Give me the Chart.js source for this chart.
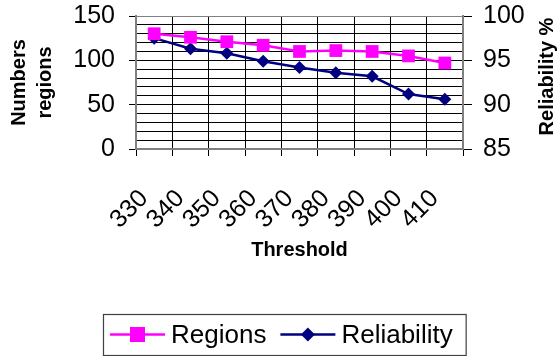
<!DOCTYPE html>
<html>
<head>
<meta charset="utf-8">
<script src="https://cdn.jsdelivr.net/npm/chart.js@4.4.1/dist/chart.umd.min.js"></script>
<style>
  html, body { margin: 0; padding: 0; background: #ffffff; }
  #wrap { width: 558px; height: 356px; }
</style>
</head>
<body>
<div id="wrap"><canvas id="c" width="558" height="356"></canvas></div>
<script>
// ---- data ----
const thresholds = ['330', '340', '350', '360', '370', '380', '390', '400', '410'];
const regions = [130, 126, 121, 117, 110, 111, 110, 105, 97];
const reliability = [97.5, 96.3, 95.8, 94.9, 94.2, 93.6, 93.2, 91.2, 90.6];
const leftTickLabels = [0, 50, 100, 150];
const rightTickLabels = [85, 90, 95, 100];

const FONT = '"Liberation Sans", Arial, Helvetica, sans-serif';
const MAGENTA = '#FF00FF';
const NAVY = '#000080';
const FRAME = '#808080';

function drawMarker(ctx, style, x, y, color) {
  ctx.fillStyle = color;
  ctx.beginPath();
  if (style === 'rect') {
    const s = 7.5;
    ctx.rect(x - s, y - s, 2 * s, 2 * s);
  } else {
    const r = 7;
    ctx.moveTo(x - r, y); ctx.lineTo(x, y - r); ctx.lineTo(x + r, y); ctx.lineTo(x, y + r);
    ctx.closePath();
  }
  ctx.fill();
}

const boxLegend = {
  id: 'boxLegend',
  afterDraw(chart) {
    const ctx = chart.ctx;
    const ds = chart.data.datasets;
    ctx.save();
    ctx.font = '26px ' + FONT;
    const lineLen = 55, gapText = 6, gapItem = 14, padL = 7, padR = 13;
    const widths = ds.map(d => ctx.measureText(d.label).width);
    let total = padL + padR + gapItem * (ds.length - 1);
    widths.forEach(w => total += lineLen + gapText + w);
    const left = Math.round(chart.width / 2 + 5 - total / 2);
    const h = 41;
    const top = chart.height - h - 1;
    ctx.strokeStyle = '#404040';
    ctx.lineWidth = 1.2;
    ctx.strokeRect(left + 0.5, top + 0.5, total, h);
    const cy = top + h / 2;
    let x = left + padL;
    ds.forEach((d, i) => {
      ctx.strokeStyle = d.borderColor;
      ctx.lineWidth = 2.5;
      ctx.beginPath();
      ctx.moveTo(x, cy); ctx.lineTo(x + lineLen, cy);
      ctx.stroke();
      drawMarker(ctx, d.pointStyle, x + lineLen / 2, cy, d.pointBackgroundColor);
      x += lineLen + gapText;
      ctx.fillStyle = '#000';
      ctx.textBaseline = 'middle';
      ctx.textAlign = 'left';
      ctx.fillText(d.label, x, cy + 1);
      x += widths[i] + gapItem;
    });
    ctx.restore();
  }
};

const rightTitle = {
  id: 'rightTitle',
  afterDraw(chart) {
    const ctx = chart.ctx;
    const a = chart.chartArea;
    ctx.save();
    ctx.font = 'bold 20px ' + FONT;
    ctx.fillStyle = '#000';
    ctx.textAlign = 'center';
    ctx.textBaseline = 'middle';
    ctx.translate(chart.width - 11, (a.top + a.bottom) / 2 - 6);
    ctx.rotate(-Math.PI / 2);
    ctx.fillText('Reliability %', 0, 0);
    ctx.restore();
  }
};

new Chart(document.getElementById('c'), {
  type: 'line',
  data: {
    labels: thresholds,
    datasets: [
      {
        label: 'Regions',
        data: regions,
        yAxisID: 'y',
        borderColor: MAGENTA,
        backgroundColor: MAGENTA,
        pointBackgroundColor: MAGENTA,
        pointBorderColor: MAGENTA,
        borderWidth: 2.5,
        pointStyle: 'rect',
        pointRadius: 9,
        pointBorderWidth: 0,
        tension: 0
      },
      {
        label: 'Reliability',
        data: reliability,
        yAxisID: 'y1',
        borderColor: NAVY,
        backgroundColor: NAVY,
        pointBackgroundColor: NAVY,
        pointBorderColor: NAVY,
        borderWidth: 2.5,
        pointStyle: 'rectRot',
        pointRadius: 6.5,
        pointBorderWidth: 0,
        tension: 0
      }
    ]
  },
  options: {
    responsive: false,
    animation: false,
    devicePixelRatio: 1,
    layout: { padding: { top: 16, left: 0, right: 0, bottom: 46 } },
    plugins: {
      legend: { display: false },
      tooltip: { enabled: false },
      title: { display: false }
    },
    scales: {
      x: {
        type: 'category',
        offset: true,
        grid: {
          offset: true,
          color: '#000',
          lineWidth: 1,
          tickLength: 7,
          tickColor: '#000'
        },
        border: { color: FRAME, width: 2 },
        ticks: {
          color: '#000',
          font: { family: FONT, size: 25 },
          minRotation: 45,
          maxRotation: 45,
          autoSkip: false,
          padding: 28,
          labelOffset: -10
        },
        title: {
          display: true,
          text: 'Threshold',
          color: '#000',
          font: { family: FONT, size: 20, weight: 'bold' },
          padding: { top: 0, bottom: 48 }
        },
        afterFit(s) { s.height = 161; }
      },
      y: {
        type: 'linear',
        position: 'left',
        min: 0,
        max: 150,
        grid: {
          color: (c) => (c.tick && c.tick.value === 150) ? FRAME : '#000',
          lineWidth: 1,
          tickLength: 21,
          tickBorderDash: [7, 14],
          tickBorderDashOffset: 7,
          tickColor: (c) => (c.tick && leftTickLabels.includes(c.tick.value)) ? '#000' : 'rgba(0,0,0,0)'
        },
        border: { color: FRAME, width: 2 },
        ticks: {
          stepSize: 10,
          autoSkip: false,
          color: '#000',
          font: { family: FONT, size: 25 },
          padding: 0,
          callback: (v) => leftTickLabels.includes(v) ? String(v) : ''
        },
        title: {
          display: true,
          text: ['Numbers', 'regions'],
          color: '#000',
          font: { family: FONT, size: 20, weight: 'bold', lineHeight: 1.3 },
          padding: { top: 6, bottom: 0 }
        },
        afterFit(s) { s.width = 136; }
      },
      y1: {
        type: 'linear',
        position: 'right',
        min: 85,
        max: 100,
        grid: {
          drawOnChartArea: false,
          tickLength: 20,
          tickBorderDash: [8, 100],
          tickColor: '#000',
          lineWidth: 1
        },
        border: { color: FRAME, width: 2 },
        ticks: {
          stepSize: 5,
          autoSkip: false,
          color: '#000',
          font: { family: FONT, size: 25 },
          padding: 0,
          callback: (v) => rightTickLabels.includes(v) ? String(v) : ''
        },
        afterFit(s) { s.width = 95; }
      }
    }
  },
  plugins: [boxLegend, rightTitle]
});
</script>
</body>
</html>
